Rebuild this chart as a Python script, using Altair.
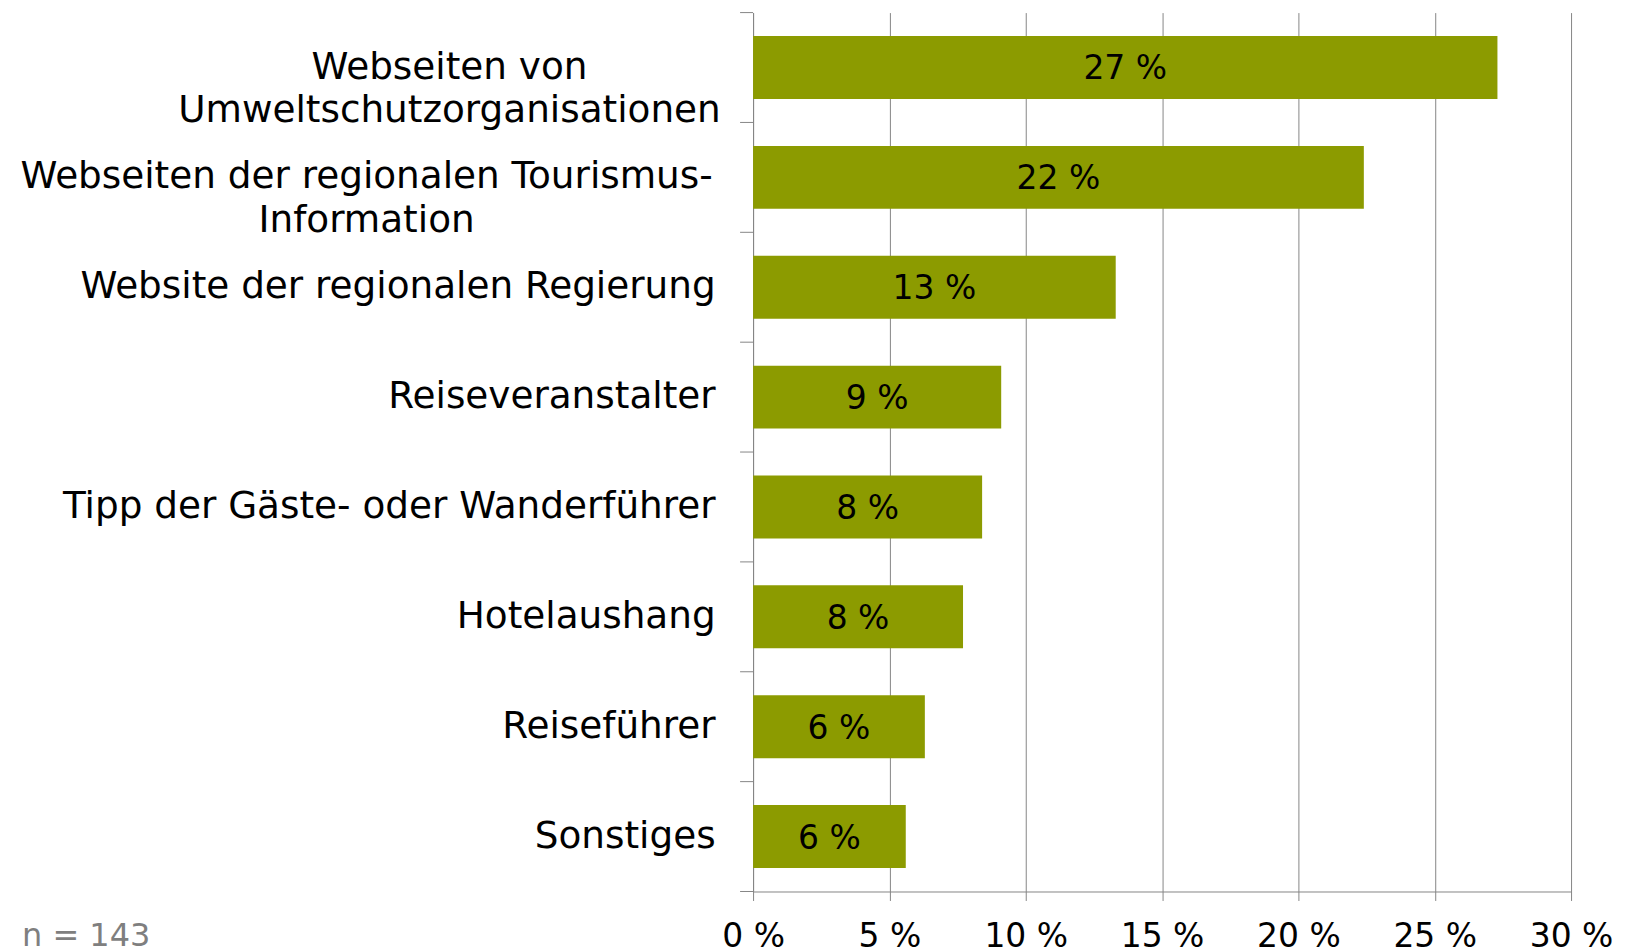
import altair as alt
import pandas as pd

categories = [
    "Webseiten von|Umweltschutzorganisationen",
    "Webseiten der regionalen Tourismus-|Information",
    "Website der regionalen Regierung",
    "Reiseveranstalter",
    "Tipp der Gäste- oder Wanderführer",
    "Hotelaushang",
    "Reiseführer",
    "Sonstiges",
]
values = [27.3, 22.4, 13.3, 9.1, 8.4, 7.7, 6.3, 5.6]
x_ticks = [0, 5, 10, 15, 20, 25, 30]
note = "n = 143"

df = pd.DataFrame({"cat": categories, "v": values})
note_df = pd.DataFrame({"t": [note]})

FONT = "DejaVu Sans"
GRAY = "#868686"
BAR = "#8C9B00"
LABEL_SIZE = 37.4

y_axis = alt.Axis(
    title=None,
    ticks=False,
    domainColor=GRAY,
    labelFont=FONT,
    labelFontSize=LABEL_SIZE,
    labelColor="#000000",
    labelLimit=0,
    labelExpr="indexof(datum.label, '|') >= 0 ? '' : datum.label",
    labelPadding=38,
)

x_axis = alt.Axis(
    title=None,
    values=x_ticks,
    labelExpr="datum.value + ' %'",
    labelFlush=False,
    grid=True,
    gridColor=GRAY,
    tickColor=GRAY,
    tickSize=9,
    domainColor=GRAY,
    labelFont=FONT,
    labelFontSize=33,
    labelColor="#000000",
    labelPadding=20,
)

y_enc = alt.Y("cat:N", sort=categories, axis=y_axis,
              scale=alt.Scale(paddingInner=0.427, paddingOuter=0.2135))
y_plain = alt.Y("cat:N", sort=categories)

base = alt.Chart(df)

bars = base.mark_bar(color=BAR).encode(
    y=y_enc,
    x=alt.X("v:Q", axis=x_axis, scale=alt.Scale(domain=[0, 30], nice=False)),
)

labels = base.transform_calculate(
    mid="datum.v / 2",
    lab="round(datum.v) + ' %'",
).mark_text(font=FONT, fontSize=33, color="#000000", baseline="middle", dy=2).encode(
    y=y_plain,
    x=alt.X("mid:Q"),
    text="lab:N",
)

# category tick marks between the bars (Excel style)
cat_ticks = base.mark_rule(color=GRAY, yOffset=-55).encode(
    y=y_plain,
    x=alt.value(-13),
    x2=alt.value(0),
)
bottom_tick = alt.Chart(note_df).mark_rule(color=GRAY).encode(
    y=alt.value(880),
    x=alt.value(-13),
    x2=alt.value(0),
)

# two-line category labels, each line centred
ml1 = base.transform_filter(alt.datum.cat == categories[0]).mark_text(
    font=FONT, fontSize=LABEL_SIZE, color="#000000", align="center",
    baseline="middle", lineBreak="|", lineHeight=44, dx=-304,
).encode(y=y_plain, x=alt.value(0), text="cat:N")

ml2 = base.transform_filter(alt.datum.cat == categories[1]).mark_text(
    font=FONT, fontSize=LABEL_SIZE, color="#000000", align="center",
    baseline="middle", lineBreak="|", lineHeight=44, dx=-387,
).encode(y=y_plain, x=alt.value(0), text="cat:N")

note_layer = alt.Chart(note_df).mark_text(
    font=FONT, fontSize=32, color="#7F7F7F", align="left", baseline="alphabetic"
).encode(
    text="t:N",
    x=alt.value(-732),
    y=alt.value(935),
)

chart = alt.layer(bars, labels, cat_ticks, bottom_tick, ml1, ml2, note_layer).properties(
    width=819,
    height=880,
    padding={"left": 12, "top": 3, "right": 5, "bottom": 0},
).configure_view(strokeWidth=0)

chart.save("out.html", embed_options={"renderer": "svg", "actions": False})
